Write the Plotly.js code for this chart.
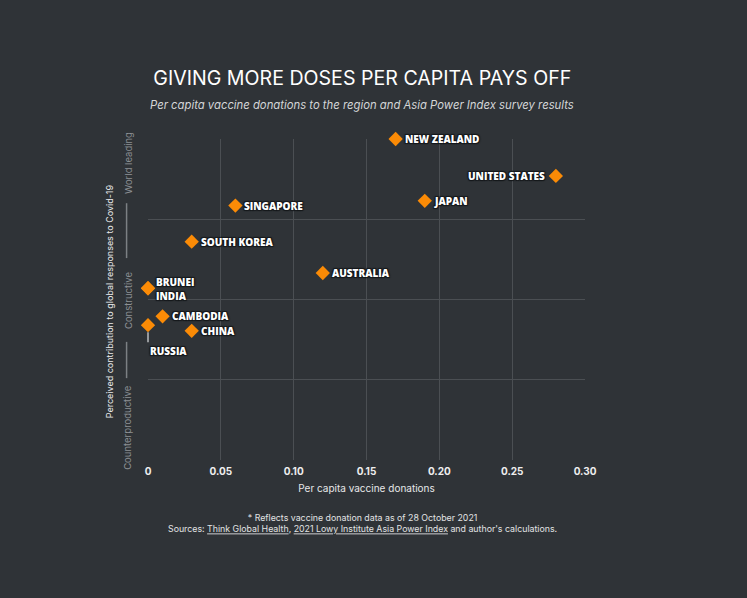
<!DOCTYPE html>
<html>
<head>
<meta charset="utf-8">
<script src="https://cdn.plot.ly/plotly-3.0.1.min.js"></script>
<style>
  html, body { margin: 0; padding: 0; background: #2f3337; }
  #chart { width: 747px; height: 598px; }
</style>
</head>
<body>
<div id="chart"></div>
<script>
// countries, donations per capita and perceived contribution score (0-4 band scale)
var countries = ['NEW ZEALAND', 'UNITED STATES', 'JAPAN', 'SINGAPORE', 'SOUTH KOREA',
                 'AUSTRALIA', 'BRUNEI', 'INDIA', 'CAMBODIA', 'RUSSIA', 'CHINA'];
var donations = [0.17, 0.28, 0.19, 0.06, 0.03, 0.12, 0, 0, 0.01, 0, 0.03];
var perception = [4.0, 3.54, 3.23, 3.17, 2.72, 2.33, 2.14, 2.14, 1.79, 1.68, 1.61];

var xTickVals = [0, 0.05, 0.10, 0.15, 0.20, 0.25, 0.30];
var xTickText = ['0', '0.05', '0.10', '0.15', '0.20', '0.25', '0.30'];
var xGridVals = [0.05, 0.10, 0.15, 0.20, 0.25];
var yGridVals = [1, 2, 3];

var bandLabels = ['World leading', 'Constructive', 'Counterproductive'];

var orange = '#fb8b06';
var labelFont = {
    family: 'Open Sans',
    size: 10,
    color: '#ffffff',
    weight: 800,
    shadow: '1px 1px 1px #15181b, -1px -1px 1px #15181b, 1px -1px 1px #15181b, -1px 1px 1px #15181b'
};

var data = [
    {
        type: 'scatter',
        mode: 'markers',
        x: donations,
        y: perception,
        text: countries,
        marker: {
            symbol: 'diamond',
            size: 11,
            color: orange
        },
        cliponaxis: false,
        hoverinfo: 'text',
        showlegend: false
    },
    {
        // invisible trace only to carry the vertical grid axis
        type: 'scatter',
        mode: 'markers',
        x: [0, 0.3],
        y: [0, 0],
        xaxis: 'x2',
        marker: {opacity: 0},
        hoverinfo: 'skip',
        showlegend: false
    }
];

// where each country label sits relative to its diamond
var labelPos = {
    'UNITED STATES': {xanchor: 'right', xshift: -9, yshift: 0},
    'BRUNEI': {xanchor: 'left', xshift: 6, yshift: 6},
    'INDIA': {xanchor: 'left', xshift: 6, yshift: -8}
};

var annotations = [];
countries.forEach(function (name, i) {
    if (name === 'RUSSIA') {
        annotations.push({
            x: donations[i], y: perception[i], xref: 'x', yref: 'y',
            text: name, font: labelFont,
            showarrow: true, arrowhead: 0, arrowwidth: 1.5, arrowcolor: '#b9bcbf',
            ax: 0, ay: 17, standoff: 7,
            xanchor: 'left', yanchor: 'top'
        });
        return;
    }
    var p = labelPos[name] || {xanchor: 'left', xshift: 7, yshift: 0};
    annotations.push({
        x: donations[i], y: perception[i], xref: 'x', yref: 'y',
        text: name, font: labelFont, showarrow: false,
        xanchor: p.xanchor, yanchor: 'middle',
        xshift: p.xshift, yshift: p.yshift
    });
});

// subtitle
annotations.push({
    xref: 'paper', yref: 'paper', x: 0.49, y: 1.106,
    text: '<i>Per capita vaccine donations to the region and Asia Power Index survey results</i>',
    showarrow: false, xanchor: 'center', yanchor: 'middle',
    font: {family: 'Inter', size: 11.3, color: '#d4d6d8'}
});

// y axis title
annotations.push({
    xref: 'paper', yref: 'paper', x: -0.089, y: 0.495,
    text: 'Perceived contribution to global responses to Covid-19',
    textangle: -90, showarrow: false, xanchor: 'center', yanchor: 'middle',
    font: {family: 'Inter', size: 9, color: '#e8e9ea'}
});

// band labels on the y side
var bandY = [0.925, 0.498, 0.103];
bandLabels.forEach(function (t, i) {
    annotations.push({
        xref: 'paper', yref: 'paper', x: -0.046, y: bandY[i],
        text: t, textangle: -90, showarrow: false,
        xanchor: 'center', yanchor: 'middle',
        font: {family: 'Inter', size: 9.5, color: '#8c9094'}
    });
});

// footer
annotations.push({
    xref: 'paper', yref: 'paper', x: 0.49, y: -0.195,
    text: '* Reflects vaccine donation data as of 28 October 2021<br>' +
          'Sources: <u>Think Global Health</u>, <u>2021 Lowy Institute Asia Power Index</u> and author\'s calculations.',
    showarrow: false, xanchor: 'center', yanchor: 'middle',
    font: {family: 'Inter', size: 8.8, color: '#e2e3e4'}
});

var layout = {
    width: 747,
    height: 598,
    paper_bgcolor: '#2f3337',
    plot_bgcolor: '#2f3337',
    font: {family: 'Inter', color: '#e6e7e8'},
    margin: {l: 148, r: 162, t: 139, b: 138},
    title: {
        text: 'GIVING MORE DOSES PER CAPITA PAYS OFF',
        x: 0.485, xanchor: 'center',
        y: 0.87, yanchor: 'middle',
        font: {family: 'Inter', size: 19.6, color: '#ffffff'}
    },
    xaxis: {
        range: [0, 0.3],
        tickvals: xTickVals,
        ticktext: xTickText,
        showgrid: false,
        zeroline: false,
        showline: false,
        ticks: '',
        ticklabelstandoff: 4,
        tickfont: {family: 'Inter', size: 10, color: '#eeeeee', weight: 'bold'},
        title: {
            text: 'Per capita vaccine donations',
            standoff: 8,
            font: {family: 'Inter', size: 10, color: '#e6e7e8'}
        }
    },
    xaxis2: {
        overlaying: 'x',
        matches: 'x',
        range: [0, 0.3],
        tickvals: xGridVals,
        showticklabels: false,
        showgrid: true,
        gridcolor: '#4b4f53',
        gridwidth: 1,
        zeroline: false,
        ticks: ''
    },
    yaxis: {
        range: [0, 4],
        tickvals: yGridVals,
        showticklabels: false,
        showgrid: true,
        gridcolor: '#4b4f53',
        gridwidth: 1,
        zeroline: false,
        ticks: ''
    },
    shapes: [
        {type: 'line', xref: 'paper', yref: 'paper', x0: -0.049, x1: -0.049, y0: 0.80, y1: 0.629,
         line: {color: '#7c8084', width: 1.5}},
        {type: 'line', xref: 'paper', yref: 'paper', x0: -0.049, x1: -0.049, y0: 0.368, y1: 0.255,
         line: {color: '#7c8084', width: 1.5}}
    ],
    annotations: annotations,
    hovermode: 'closest'
};

Plotly.newPlot('chart', data, layout, {displayModeBar: false});
</script>
</body>
</html>
